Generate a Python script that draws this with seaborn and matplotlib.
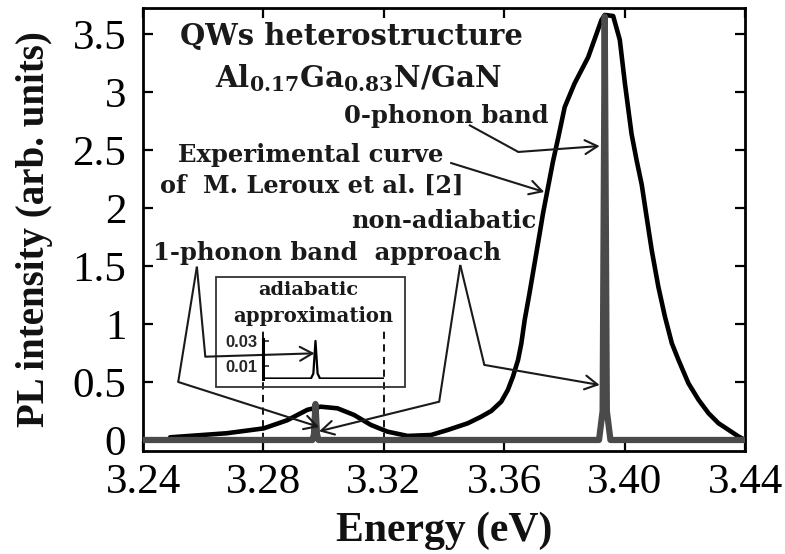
import matplotlib
matplotlib.use('Agg')
import matplotlib.pyplot as plt
import seaborn as sns
import pandas as pd
from matplotlib.patches import Rectangle

# ---------------- data ----------------
energy_exp = [3.249, 3.2678, 3.2801, 3.2879, 3.2946, 3.299, 3.3046, 3.3101, 3.3157, 3.3212,
              3.3279, 3.3357, 3.3412, 3.3479, 3.3523, 3.3557, 3.359, 3.3612, 3.3629, 3.3646,
              3.3657, 3.3668, 3.3684, 3.3701, 3.3718, 3.3729, 3.3746, 3.3762, 3.3779, 3.3801,
              3.3834, 3.3879, 3.3923, 3.3934, 3.3962, 3.3984, 3.4001, 3.4023, 3.4040, 3.4057,
              3.4073, 3.4090, 3.4112, 3.4134, 3.4157, 3.4179, 3.4212, 3.4246, 3.4279, 3.4312,
              3.4346, 3.4379, 3.4400]
intensity_exp = [0.023, 0.058, 0.10, 0.17, 0.26, 0.287, 0.273, 0.216, 0.13, 0.072,
                 0.035, 0.043, 0.086, 0.144, 0.20, 0.25, 0.33, 0.431, 0.546, 0.69,
                 0.833, 1.034, 1.264, 1.523, 1.782, 1.954, 2.184, 2.40, 2.60, 2.87,
                 3.075, 3.30, 3.62, 3.664, 3.655, 3.45, 3.075, 2.64, 2.41, 2.20,
                 1.925, 1.638, 1.322, 1.063, 0.833, 0.69, 0.489, 0.345, 0.23, 0.144,
                 0.086, 0.029, 0.0]

energy_calc = [3.24, 3.2963, 3.2968, 3.2973, 3.2978, 3.2983, 3.3915, 3.3927, 3.3934,
               3.3941, 3.3953, 3.44]
intensity_calc = [0.0, 0.0, 0.05, 0.31, 0.05, 0.0, 0.0, 0.25, 3.65, 0.25, 0.0, 0.0]

energy_inset = [3.28, 3.2958, 3.2966, 3.2973, 3.2980, 3.2988, 3.32]
intensity_inset = [0.0, 0.0, 0.004, 0.030, 0.004, 0.0, 0.0]

xticks = [3.24, 3.28, 3.32, 3.36, 3.40, 3.44]
xtick_labels = ['3.24', '3.28', '3.32', '3.36', '3.40', '3.44']
yticks = [0, 0.5, 1, 1.5, 2, 2.5, 3, 3.5]
ytick_labels = ['0', '0.5', '1', '1.5', '2', '2.5', '3', '3.5']
inset_yticks = [0.01, 0.03]
inset_ytick_labels = ['0.01', '0.03']

# ---------------- style ----------------
sns.set_theme(style='ticks')
plt.rcParams['font.family'] = ['Liberation Serif', 'DejaVu Serif']
plt.rcParams.update({
    'mathtext.fontset': 'custom',
    'mathtext.rm': 'DejaVu Serif:bold',
    'mathtext.it': 'DejaVu Serif:bold',
    'mathtext.bf': 'DejaVu Serif:bold',
    'mathtext.default': 'rm',
})

W, H = 785, 554
fig = plt.figure(figsize=(W / 100, H / 100), dpi=100)
fig.patch.set_facecolor('white')
ax = fig.add_axes([143 / W, 1 - 451 / H, 602 / W, 443 / H])
ax.set_facecolor('white')

df_exp = pd.DataFrame({'Energy': energy_exp, 'PL': intensity_exp})
df_calc = pd.DataFrame({'Energy': energy_calc, 'PL': intensity_calc})
sns.lineplot(data=df_exp, x='Energy', y='PL', ax=ax, color='black', linewidth=3.3,
             estimator=None, sort=False, zorder=3, solid_joinstyle='round')
sns.lineplot(data=df_calc, x='Energy', y='PL', ax=ax, color='#4a4a4a', linewidth=4.5,
             estimator=None, sort=False, zorder=4)

ax.set_xlim(3.24, 3.44)
ax.set_ylim(-0.095, 3.724)
ax.set_xticks(xticks)
ax.set_xticklabels(xtick_labels)
ax.set_yticks(yticks)
ax.set_yticklabels(ytick_labels)
ax.tick_params(direction='in', length=7, width=1.6, top=True, right=True,
               labelsize=31, colors='black')
ax.tick_params(axis='x', pad=9)
ax.tick_params(axis='y', pad=12)
for sp in ax.spines.values():
    sp.set_visible(True)
    sp.set_linewidth(2.0)
    sp.set_color('black')

ax.set_xlabel('Energy (eV)', fontsize=30, fontweight='bold', color='#111')
ax.set_ylabel('PL intensity (arb. units)', fontsize=28, fontweight='bold', color='#111')
ax.xaxis.set_label_coords(0.5, -0.137)
ax.yaxis.set_label_coords(-0.15, 0.5)

# dashed guide lines
ax.vlines([3.28, 3.32], 0, 0.965, colors='black', linewidth=1.3,
          linestyles=(0, (4, 3)), zorder=2)

# inset box
ax.add_patch(Rectangle((3.2643, 0.457), 0.0627, 0.948, fill=False,
                       edgecolor='#333333', linewidth=1.3, zorder=2))

# inset axes
ins = ax.inset_axes([3.28, 0.53, 0.04, 0.341], transform=ax.transData)
ins.patch.set_alpha(0)
df_ins = pd.DataFrame({'Energy': energy_inset, 'PL': intensity_inset})
sns.lineplot(data=df_ins, x='Energy', y='PL', ax=ins, color='black', linewidth=1.6,
             estimator=None, sort=False)
ins.set_xlim(3.28, 3.32)
ins.set_ylim(0, 0.0316)
ins.set_xticks([])
ins.set_yticks(inset_yticks)
ins.set_yticklabels(inset_ytick_labels)
ins.set_xlabel('')
ins.set_ylabel('')
for k in ['top', 'right', 'bottom']:
    ins.spines[k].set_visible(False)
ins.spines['left'].set_linewidth(2.2)
ins.spines['left'].set_color('black')
ins.tick_params(axis='y', direction='in', length=4, width=1.2, pad=4, labelsize=12)
for lab in ins.get_yticklabels():
    lab.set_fontfamily('Liberation Sans')
    lab.set_fontweight('bold')

# ---------------- annotations ----------------
renderer = fig.canvas.get_renderer()


def fitted_text(x, y, s, width_px, ha='center'):
    t = ax.text(x, y, s, fontsize=20, family='DejaVu Serif', fontweight='bold',
                color='#1a1a1a', ha=ha, va='baseline', zorder=5)
    w = t.get_window_extent(renderer).width
    t.set_fontsize(20 * width_px / w)
    return t


fitted_text(3.3093, 3.405, 'QWs heterostructure', 343)
fitted_text(3.3117, 3.043, r'Al$_{0.17}$Ga$_{0.83}$N/GaN', 287)
fitted_text(3.3407, 2.733, '0-phonon band', 205)
fitted_text(3.2957, 2.397, 'Experimental curve', 266)
fitted_text(3.2960, 2.129, 'of  M. Leroux et al. [2]', 302)
fitted_text(3.3398, 1.828, 'non-adiabatic', 185)
fitted_text(3.3010, 1.552, '1-phonon band  approach', 348)
fitted_text(3.2950, 1.250, 'adiabatic', 100)
fitted_text(3.2967, 1.017, 'approximation', 160)

arrows = [
    [(3.3483, 2.716), (3.3647, 2.483), (3.3917, 2.534)],
    [(3.3423, 2.388), (3.3733, 2.138)],
    [(3.2579, 1.494), (3.2607, 0.718), (3.2970, 0.747)],
    [(3.2579, 1.494), (3.2517, 0.500), (3.2985, 0.112)],
    [(3.3454, 1.509), (3.3384, 0.330), (3.2985, 0.075)],
    [(3.3454, 1.509), (3.3534, 0.647), (3.3917, 0.474)],
]
for path in arrows:
    xs = [p[0] for p in path[:-1]]
    ys = [p[1] for p in path[:-1]]
    if len(xs) > 1:
        ax.plot(xs, ys, color='#1a1a1a', linewidth=1.5, solid_capstyle='butt',
                solid_joinstyle='miter', zorder=5)
    ax.annotate('', xy=path[-1], xytext=path[-2], xycoords='data',
                arrowprops=dict(arrowstyle='->,head_length=0.45,head_width=0.25',
                                color='#1a1a1a', lw=1.5, shrinkA=0, shrinkB=0,
                                mutation_scale=20), zorder=5)

fig.savefig('out.png', dpi=100, facecolor='white')
